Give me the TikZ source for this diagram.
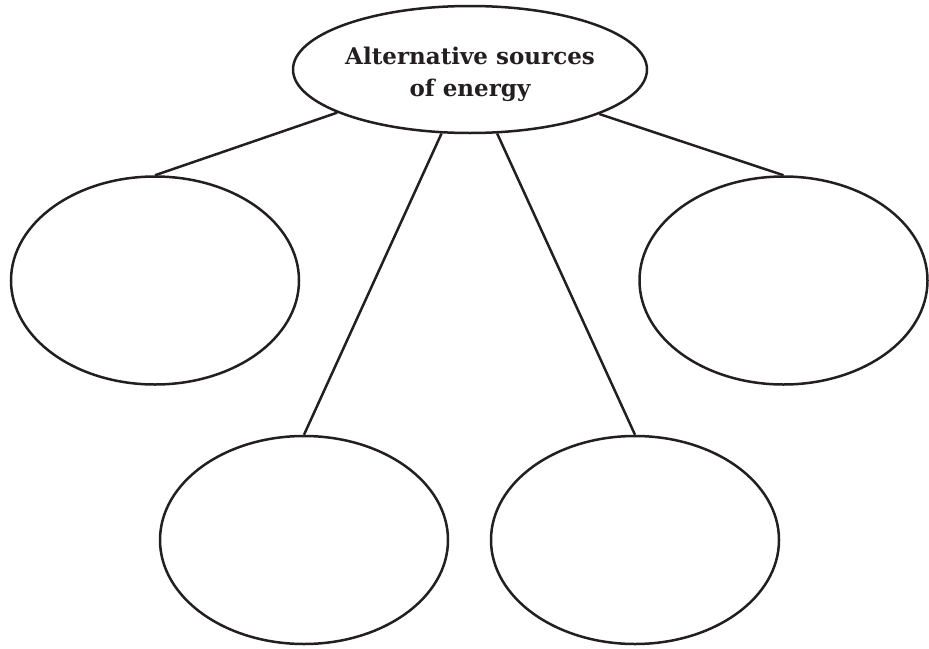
\documentclass[tikz,border=0pt]{standalone}
\usepackage{fontspec}
\setmainfont{DejaVu Serif}
\usetikzlibrary{shapes.geometric}
\definecolor{ink}{HTML}{231F20}
\tikzset{
  bubble/.style={ellipse, draw=ink, line width=2.5pt, inner sep=0pt,
                 minimum width=288pt, minimum height=208pt},
  link/.style={draw=ink, line width=2.5pt},
  title/.style={text=ink, align=center, font=\fontsize{23}{32}\selectfont\bfseries}
}
\begin{document}
\begin{tikzpicture}[x=1pt, y=-1pt]
  \useasboundingbox (0,0) rectangle (929,648);
  % central topic
  \node[ellipse, draw=ink, line width=2.5pt, inner sep=0pt,
        minimum width=354pt, minimum height=127pt] (top) at (470,69.5) {};
  \node[title] (label) at (470,74) {Alternative sources\\of energy};
  % four empty answer bubbles
  \node[bubble] (l)  at (155,280.5) {};
  \node[bubble] (r)  at (783.5,280.5) {};
  \node[bubble] (bl) at (304,540) {};
  \node[bubble] (br) at (635,540) {};
  % connectors
  \draw[link] (top.198.9) -- (l.north);
  \draw[link] (top.246.5) -- (bl.north);
  \draw[link] (top.293.5) -- (br.north);
  \draw[link] (top.341.4) -- (r.north);
\end{tikzpicture}
\end{document}
